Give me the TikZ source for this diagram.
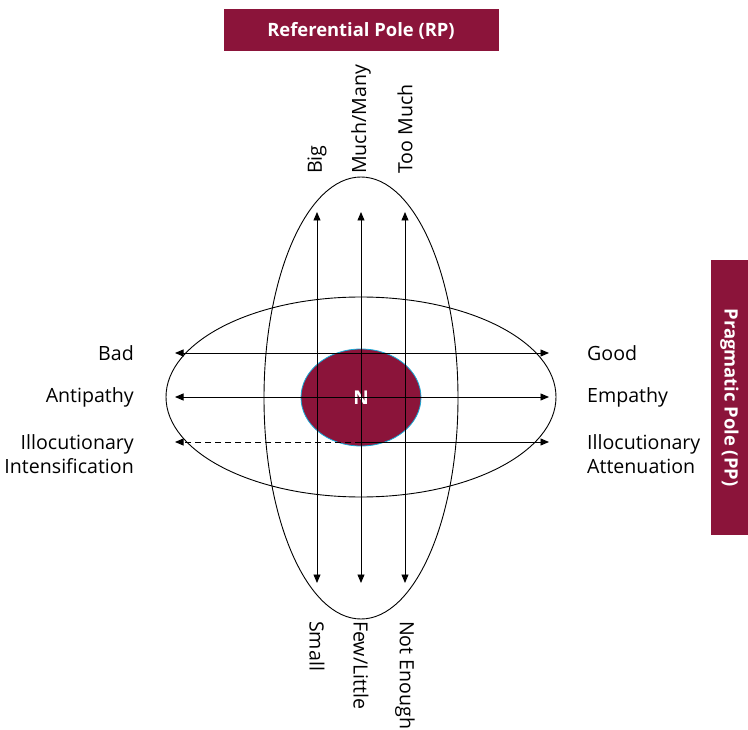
\documentclass[tikz,border=0pt]{standalone}
\usepackage{fontspec}
\setmainfont{Open Sans}
\usetikzlibrary{arrows.meta,shapes.geometric}
\definecolor{maroon}{RGB}{139,20,58}
\definecolor{rim}{RGB}{20,170,215}
\begin{document}
\begin{tikzpicture}[x=1pt,y=-1pt,
  line/.style={line width=0.9pt},
  dual/.style={line width=0.9pt,{Triangle[length=8.5pt,width=7pt]}-{Triangle[length=8.5pt,width=7pt]}},
  single/.style={line width=0.9pt,-{Triangle[length=8.5pt,width=7pt]}},
  lab/.style={font=\fontsize{19.6}{24.5}\selectfont, inner sep=0pt},
  pole/.style={fill=maroon, text=white, inner sep=0pt, font=\bfseries\fontsize{18.4}{22}\selectfont},
  oval/.style={draw, ellipse, line width=0.9pt, inner sep=0pt}]
\useasboundingbox (0,0) rectangle (748,730);

% pole banners
\node[pole, minimum width=275pt, minimum height=42pt] (rp) at (361,30.5) {Referential Pole (RP)};
\node[pole, rotate=-90, minimum width=275pt, minimum height=37pt] (pp) at (729.5,397.5) {Pragmatic Pole (PP)};

% the two crossing ovals
\node[oval, minimum width=194pt, minimum height=442pt] (vert) at (361,398) {};
\node[oval, minimum width=390pt, minimum height=200pt] (horz) at (361,397) {};

% nucleus
\node[ellipse, fill=maroon, draw=rim, line width=0.8pt, minimum width=120pt, minimum height=97pt,
      text=white, font=\bfseries\fontsize{19}{22}\selectfont] (n) at (361,397.5) {N};

% vertical (referential) arrows
\foreach \x/\k in {317/a,361/b,405/c}{
  \coordinate (\k top) at (\x,212);
  \coordinate (\k bot) at (\x,583);
  \draw[dual] (\k top) -- (\k bot);
}

% horizontal (pragmatic) arrows
\coordinate (l1) at (175,353); \coordinate (r1) at (549,353);
\coordinate (l2) at (175,397); \coordinate (r2) at (549,397);
\coordinate (l3) at (175,442); \coordinate (r3) at (549,442);
\coordinate (m3) at (361,442);
\draw[dual] (l1) -- (r1);
\draw[dual] (l2) -- (r2);
\draw[single, dash pattern=on 6pt off 4pt] (m3) -- (l3);
\draw[single] (m3) -- (r3);

% left labels
\node[lab, anchor=east] (bad) at (134,353) {Bad};
\node[lab, anchor=east] (anti) at (134,397) {Antipathy};
\node[lab, anchor=east, align=right] (inten) at (134,454) {Illocutionary\\Intensification};

% right labels
\node[lab, anchor=west] (good) at (587,353) {Good};
\node[lab, anchor=west] (emp) at (587,397) {Empathy};
\node[lab, anchor=west, align=left] (atten) at (587,454) {Illocutionary\\Attenuation};

% top labels
\node[lab, rotate=90, anchor=west] (big) at (317,174) {Big};
\node[lab, rotate=90, anchor=west] (much) at (361,174) {Much/Many};
\node[lab, rotate=90, anchor=west] (too) at (405,174) {Too Much};

% bottom labels
\node[lab, rotate=-90, anchor=west] (small) at (317,621) {Small};
\node[lab, rotate=-90, anchor=west] (few) at (361,621) {Few/Little};
\node[lab, rotate=-90, anchor=west] (noten) at (405,621) {Not Enough};
\end{tikzpicture}
\end{document}
